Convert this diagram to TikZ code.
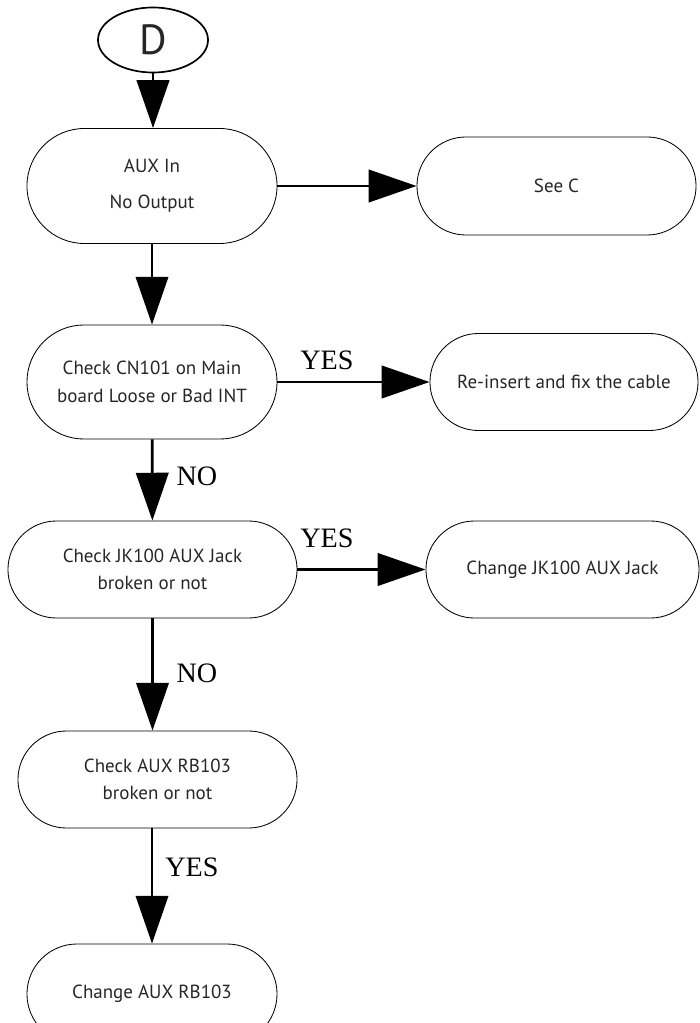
\documentclass[tikz,border=0pt]{standalone}
\usepackage{fontspec}
\setmainfont{Liberation Serif}
\setsansfont{PT Sans}
\usetikzlibrary{arrows.meta,shapes.geometric}

\begin{document}
\begin{tikzpicture}[x=0.025cm, y=-0.025cm,
        flow/.style={line width=2pt, -{Triangle[length=34pt,width=23pt]}},
        term/.style 2 args={draw, line width=0.6pt, rectangle, align=center,
            minimum width=#1, minimum height=2*#2, rounded corners=#2,
            inner sep=0pt, text=black!85,
            font=\sffamily\fontsize{13.5}{19.5}\selectfont},
        lbl/.style={font=\fontsize{20}{20}\selectfont, inner sep=0pt}]
\useasboundingbox (0,0) rectangle (699,1023);

% start
\node[draw, ellipse, line width=1.2pt, minimum width=2.75cm, minimum height=1.625cm,
    inner sep=0pt, text=black!85, font=\sffamily\fontsize{30}{30}\selectfont] (d) at (153,40) {D};

% left column
\node[term={6.25cm}{1.4375cm}] (aux) at (152,186) {AUX In\\[6pt]No Output};
\node[term={6.25cm}{1.425cm}] (cn) at (152,382) {Check CN101 on Main\\board Loose or Bad INT};
\node[term={7.225cm}{1.2125cm}] (jk) at (152.5,569.5) {Check JK100 AUX Jack\\broken or not};
\node[term={6.975cm}{1.2125cm}] (rb) at (157.5,779.5) {Check AUX RB103\\broken or not};
\node[term={6.25cm}{1.25cm}] (chrb) at (152,994) {Change AUX RB103};

% right column
\node[term={6.975cm}{1.225cm}] (seec) at (556.5,186) {See C};
\node[term={6.7cm}{1.2125cm}] (reins) at (564,382) {Re-insert and fix the cable};
\node[term={6.825cm}{1.2125cm}] (chjk) at (562.5,569.5) {Change JK100 AUX Jack};

% labels
\node[lbl] (yes1) at (327,360) {YES};
\node[lbl] (no1) at (197,476) {NO};
\node[lbl] (yes2) at (327,538) {YES};
\node[lbl] (no2) at (197,673) {NO};
\node[lbl] (yes3) at (192,867) {YES};

% connectors
\draw[flow] (d.south) -- (d.south |- aux.north);
\draw[flow] (aux) -- (seec);
\draw[flow] (aux) -- (cn);
\draw[flow] (cn) -- (reins);
\draw[flow] (cn) -- (jk);
\draw[flow] (jk) -- (chjk);
\draw[flow] (jk.south) -- (jk.south |- rb.north);
\draw[flow] (rb.south -| chrb.north) -- (chrb.north);
\end{tikzpicture}
\end{document}
